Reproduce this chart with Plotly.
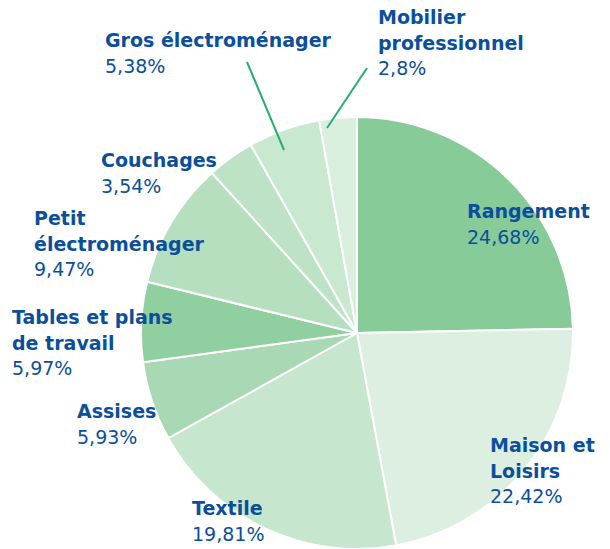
import plotly.graph_objects as go

names = ['Rangement', 'Maison et Loisirs', 'Textile', 'Assises', 'Tables et plans de travail',
         'Petit électroménager', 'Couchages', 'Gros électroménager', 'Mobilier professionnel']
values = [24.68, 22.42, 19.81, 5.93, 5.97, 9.47, 3.54, 5.38, 2.8]
pct_text = ['24,68%', '22,42%', '19,81%', '5,93%', '5,97%', '9,47%', '3,54%', '5,38%', '2,8%']
# how the label is wrapped in the picture
label_lines = [['Rangement'], ['Maison et', 'Loisirs'], ['Textile'], ['Assises'],
               ['Tables et plans', 'de travail'], ['Petit', 'électroménager'], ['Couchages'],
               ['Gros électroménager'], ['Mobilier', 'professionnel']]

colors = ['#87cb98', '#dcefe1', '#c6e6cd', '#a9d9b4', '#90cf9f', '#b5dfbf', '#bde2c6', '#c9e8d0', '#d9eedd']

# label left edge and first-line centre (page pixels)
label_px = [(467, 211), (490, 445), (192, 508), (77, 411), (12, 317),
            (34, 218), (101, 160), (105, 40), (378, 17)]
line_gap = 25.5

OFF = 8  # body margin of the html page
W, H = 610 - 2 * OFF, 549 - OFF
cx, cy, r = 357 - OFF, 333 - OFF, 216


def px(x):
    return (x - OFF) / W


def py(y):
    return 1 - (y - OFF) / H


fig = go.Figure(go.Pie(
    labels=names, values=values, sort=False, direction='clockwise', rotation=0,
    textinfo='none', hoverinfo='skip',
    marker=dict(colors=colors, line=dict(color='white', width=2)),
    domain=dict(x=[(cx - r) / W, (cx + r) / W], y=[(H - cy - r) / H, (H - cy + r) / H]),
    showlegend=False,
))

font_b = dict(family='DejaVu Sans', size=19, color='#0b4f9c')
for lines, pct, (lx, ly) in zip(label_lines, pct_text, label_px):
    rows = [f'<b>{t}</b>' for t in lines] + [pct]
    for i, t in enumerate(rows):
        fig.add_annotation(
            x=px(lx - 2), y=py(ly + i * line_gap), xref='paper', yref='paper',
            xanchor='left', yanchor='middle', showarrow=False, text=t, font=font_b,
        )

# leader lines for the two small slices
for x0, y0, x1, y1 in [(247, 62, 284, 150), (367, 68, 327, 128)]:
    fig.add_shape(type='line', xref='paper', yref='paper',
                  x0=px(x0), y0=py(y0), x1=px(x1), y1=py(y1),
                  line=dict(color='#27ae6f', width=2))

fig.update_layout(width=W, height=H, margin=dict(l=0, r=0, t=0, b=0),
                  paper_bgcolor='white', plot_bgcolor='white')
fig.write_html('out.html')
